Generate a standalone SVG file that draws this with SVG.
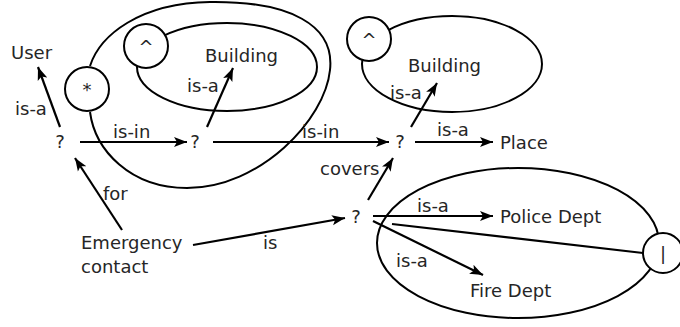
<svg xmlns="http://www.w3.org/2000/svg" width="680" height="327" viewBox="0 0 680 327">
<style>
text{font-family:"DejaVu Sans",sans-serif;font-size:18px;fill:#262626}
.c{text-anchor:middle}
.sh{fill:none;stroke:#000;stroke-width:2}
.ci{fill:#fff;stroke:#000;stroke-width:2}
.ln{fill:none;stroke:#000;stroke-width:2.2}
.ar{marker-end:url(#ah)}
</style>
<defs>
<marker id="ah" markerUnits="userSpaceOnUse" markerWidth="14" markerHeight="11" viewBox="0 0 14 11" refX="13" refY="5.5" orient="auto">
<path d="M0,0.5 L13,5.5 L0,10.5 L3,5.5 z" fill="#000"/>
</marker>
</defs>
<rect width="680" height="327" fill="#fff"/>
<g id="loop-star">
<path class="sh" d="M90,66 C100,35 140,3 210,2 C290,1 335,25 330,70 C325,120 260,188 187,188 C130,188 95,150 90,112"/>
<circle class="ci" cx="87" cy="89" r="22"/>
<text class="c" x="87" y="96">*</text>
</g>
<g id="group-building-left">
<ellipse class="sh" cx="227" cy="67" rx="90" ry="44"/>
<circle class="ci" cx="146" cy="46" r="22"/>
<text class="c" x="146" y="53">^</text>
<text x="205" y="62">Building</text>
</g>
<g id="group-building-right">
<ellipse class="sh" cx="452" cy="64" rx="90" ry="48"/>
<circle class="ci" cx="369" cy="39" r="22"/>
<text class="c" x="369" y="46">^</text>
<text x="408" y="72">Building</text>
</g>
<g id="group-depts">
<ellipse class="sh" cx="518" cy="243" rx="141" ry="75"/>
</g>
<g id="connectors">
<line class="ln ar" x1="60" y1="127" x2="38" y2="67"/>
<line class="ln ar" x1="80" y1="142" x2="187" y2="142"/>
<line class="ln ar" x1="207" y1="127" x2="233" y2="68"/>
<line class="ln ar" x1="213" y1="142" x2="389" y2="142"/>
<line class="ln ar" x1="411" y1="127" x2="437" y2="83"/>
<line class="ln ar" x1="415" y1="142" x2="493" y2="142"/>
<line class="ln ar" x1="368" y1="200" x2="393" y2="158"/>
<line class="ln ar" x1="122" y1="230" x2="75" y2="158"/>
<line class="ln ar" x1="193" y1="245" x2="345" y2="218"/>
<line class="ln ar" x1="373" y1="216" x2="493" y2="216"/>
<line class="ln ar" x1="373" y1="221" x2="483" y2="275"/>
<line class="ln" x1="392" y1="224" x2="643" y2="253"/>
<text x="15" y="115">is-a</text>
<text x="113" y="138">is-in</text>
<text x="302" y="138">is-in</text>
<text x="187" y="92">is-a</text>
<text x="390" y="99">is-a</text>
<text x="437" y="136">is-a</text>
<text x="320" y="175">covers</text>
<text x="103" y="200">for</text>
<text x="263" y="249">is</text>
<text x="417" y="212">is-a</text>
<text x="396" y="267">is-a</text>
</g>
<g id="node-or">
<circle class="ci" cx="663" cy="253" r="20"/>
<text class="c" x="663" y="260">|</text>
</g>
<g id="node-user"><text x="11" y="59">User</text></g>
<g id="node-q1"><text class="c" x="60" y="148">?</text></g>
<g id="node-q2"><text class="c" x="195" y="148">?</text></g>
<g id="node-q3"><text class="c" x="400" y="148">?</text></g>
<g id="node-q4"><text class="c" x="356" y="223">?</text></g>
<g id="node-place"><text x="500" y="149">Place</text></g>
<g id="node-police"><text x="500" y="223">Police Dept</text></g>
<g id="node-fire"><text x="470" y="297">Fire Dept</text></g>
<g id="node-emergency"><text x="81" y="249">Emergency</text><text x="81" y="273">contact</text></g>
</svg>
